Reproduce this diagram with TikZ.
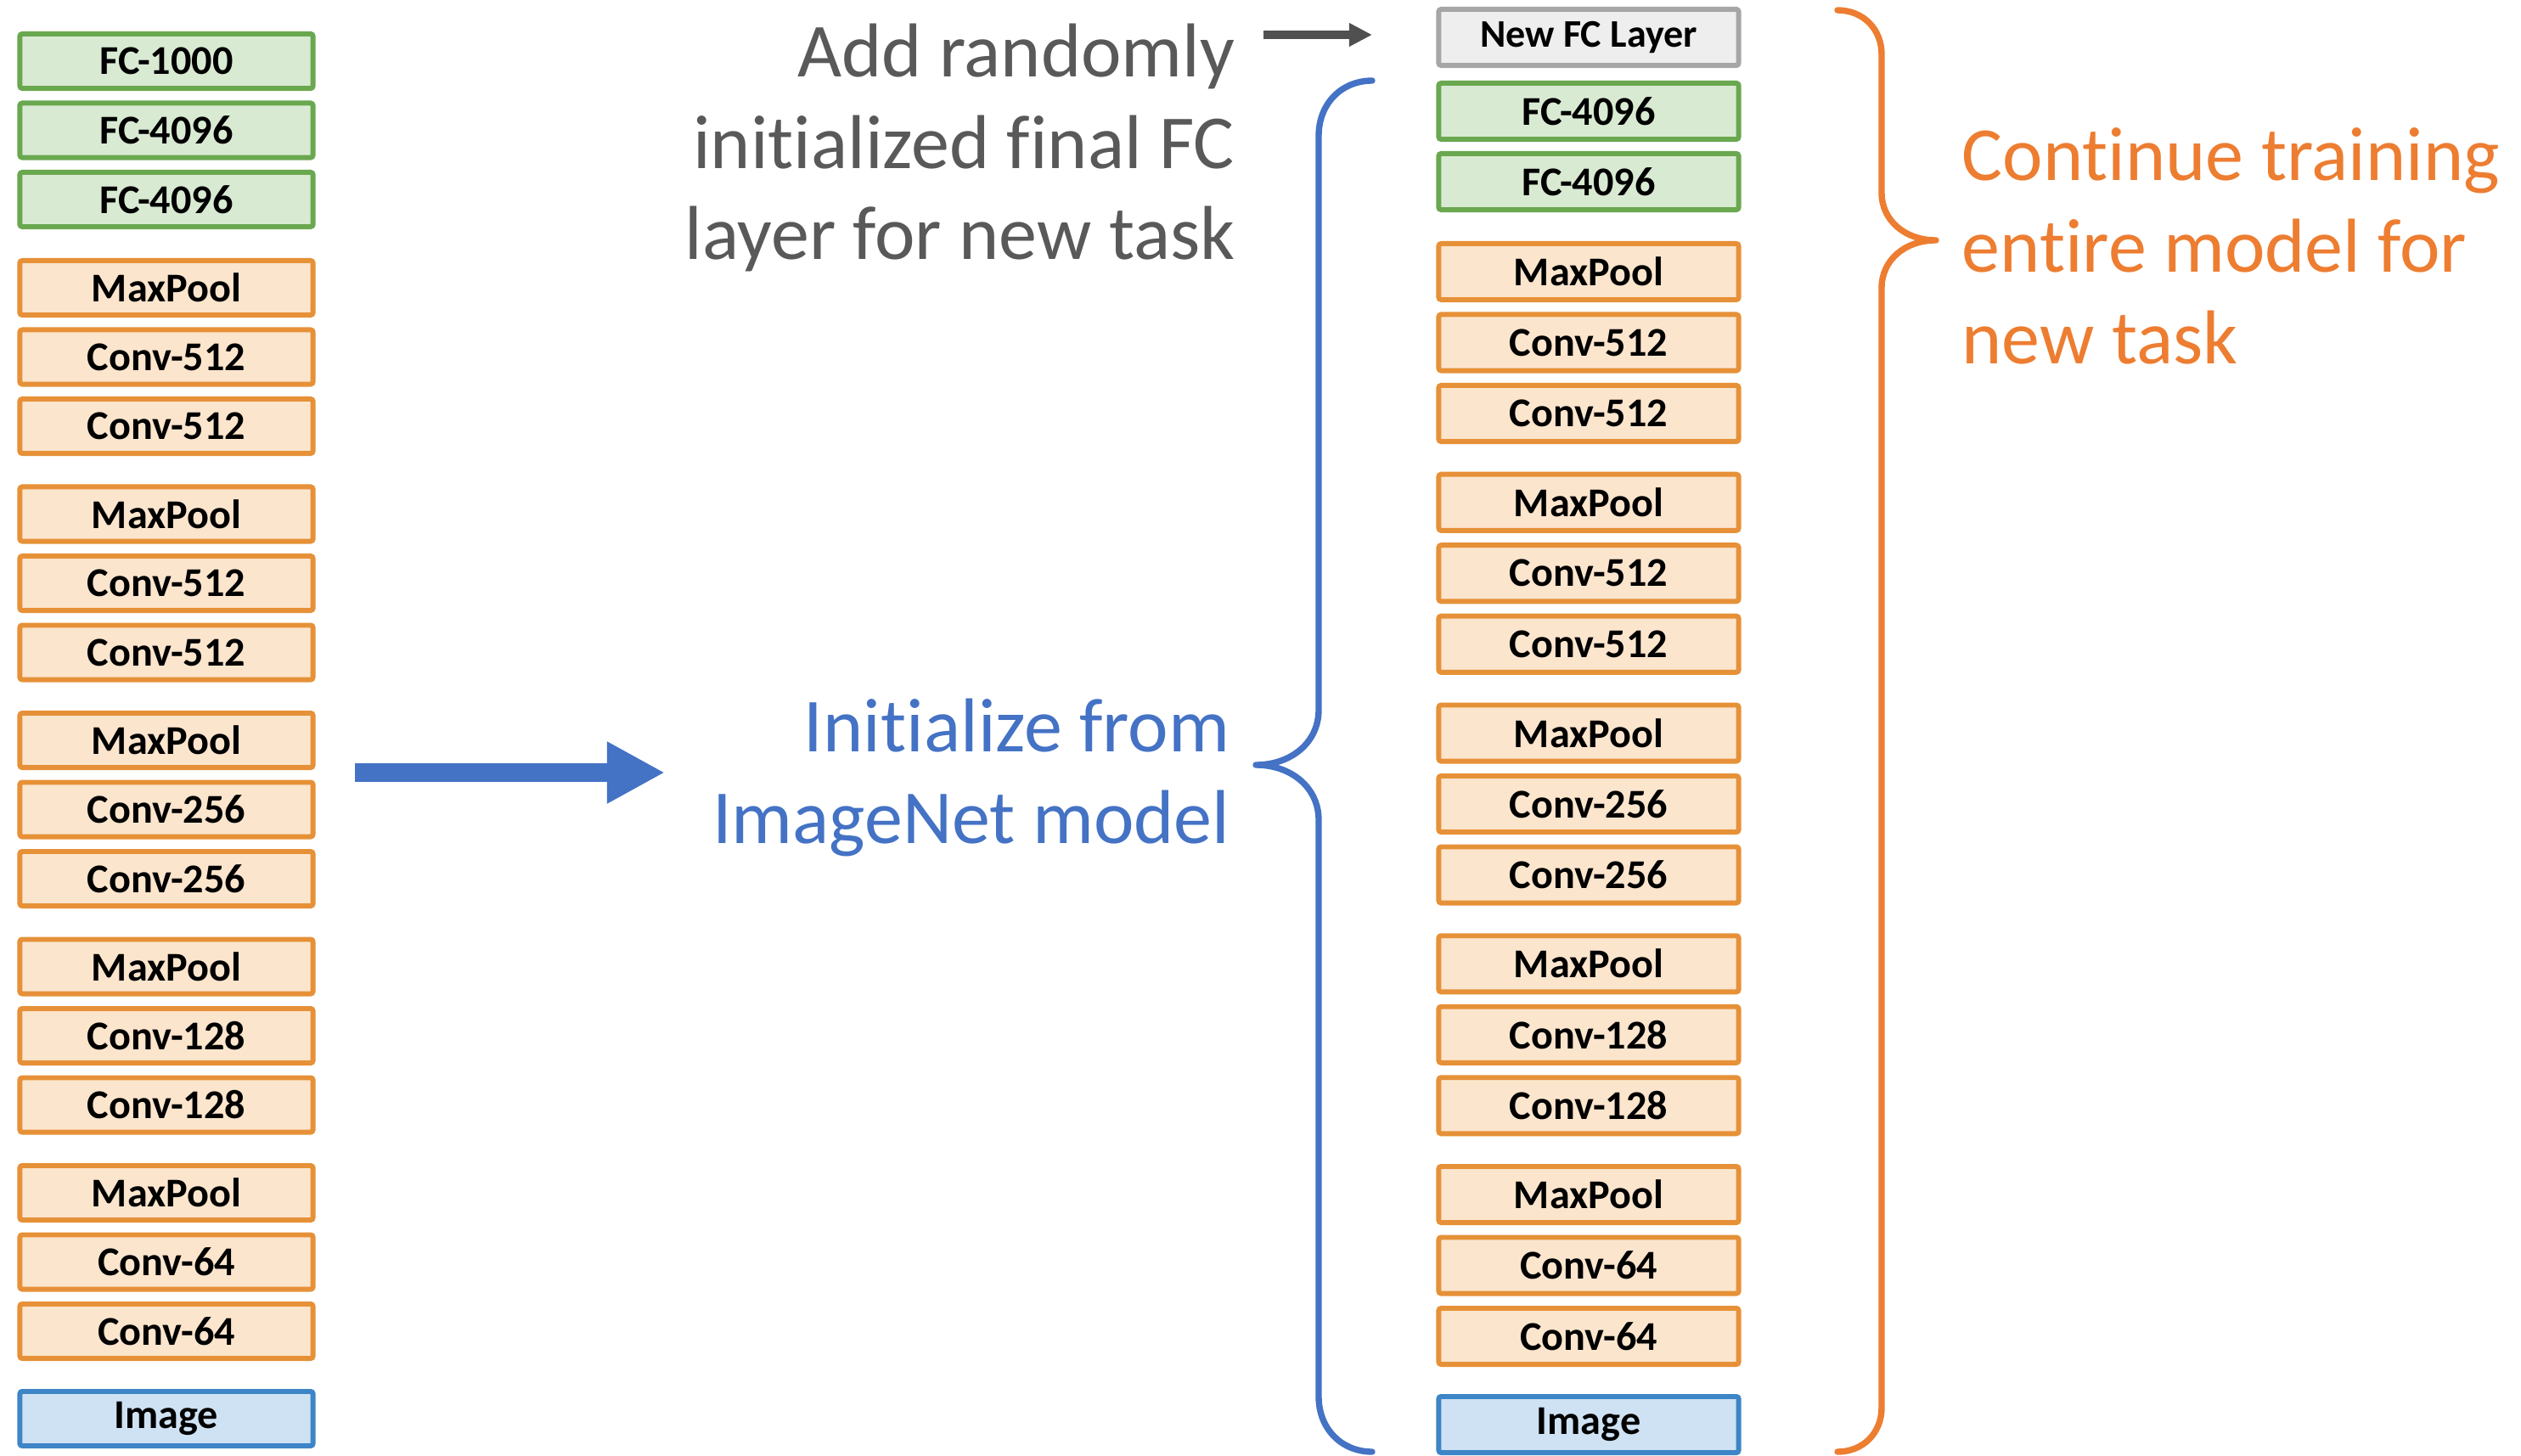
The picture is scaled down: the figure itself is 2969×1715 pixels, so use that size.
\documentclass[tikz,border=0pt]{standalone}
\usepackage{fontspec}
\setmainfont{Carlito}[Ligatures=NoCommon]
\usetikzlibrary{arrows.meta}

\definecolor{convdraw}{HTML}{E69138}
\definecolor{convfill}{HTML}{FCE5CD}
\definecolor{fcdraw}{HTML}{6AA84F}
\definecolor{fcfill}{HTML}{D9EAD3}
\definecolor{imgdraw}{HTML}{3D85C6}
\definecolor{imgfill}{HTML}{CFE2F3}
\definecolor{newdraw}{HTML}{A6A6A6}
\definecolor{newfill}{HTML}{EEEEEE}
\definecolor{noteorange}{HTML}{ED7D31}
\definecolor{noteblue}{HTML}{4472C4}
\definecolor{notegray}{HTML}{595959}
\definecolor{arrowgray}{HTML}{505050}

\tikzset{
  layer/.style={draw, line width=1.7pt, rounded corners=0.8pt, inner sep=0pt,
    text=black, font=\bfseries\fontsize{13.7}{16}\selectfont},
  leftbox/.style={layer, minimum width=3.45cm, minimum height=0.64cm},
  rightbox/.style={layer, minimum width=3.53cm, minimum height=0.66cm},
  conv/.style={draw=convdraw, fill=convfill},
  fc/.style={draw=fcdraw, fill=fcfill},
  img/.style={draw=imgdraw, fill=imgfill},
  newfc/.style={draw=newdraw, fill=newfill},
  note/.style={inner sep=0pt, font=\fontsize{25.6}{30.7}\selectfont},
  brace/.style={line width=2.1pt, line cap=round, line join=round},
}

\begin{document}
\begin{tikzpicture}[x=0.01cm, y=-0.01cm]
\useasboundingbox (0,0) rectangle (2969,1715);

% ---- pretrained network (left column)
\node[leftbox, fc] (Lfc1) at (196,72) {FC-1000};
\node[leftbox, fc] (Lfc2) at (196,153.5) {FC-4096};
\node[leftbox, fc] (Lfc3) at (196,235) {FC-4096};
\foreach \g/\c in {0/512,1/512,2/256,3/128,4/64}{
  \node[leftbox, conv] (Lpool\g) at (196,{339+266.5*\g}) {MaxPool};
  \node[leftbox, conv] (Lconva\g) at (196,{420.5+266.5*\g}) {Conv-\c};
  \node[leftbox, conv] (Lconvb\g) at (196,{502+266.5*\g}) {Conv-\c};
}
\node[leftbox, img] (Limg) at (196,1671) {Image};

% ---- fine-tuned network (right column)
\node[rightbox, newfc, font=\bfseries\fontsize{13.1}{16}\selectfont] (Rnew) at (1871,44) {New FC Layer};
\node[rightbox, fc] (Rfc2) at (1871,131) {FC-4096};
\node[rightbox, fc] (Rfc3) at (1871,214) {FC-4096};
\foreach \g/\c in {0/512,1/512,2/256,3/128,4/64}{
  \node[rightbox, conv] (Rpool\g) at (1871,{320+271.75*\g}) {MaxPool};
  \node[rightbox, conv] (Rconva\g) at (1871,{403.5+271.75*\g}) {Conv-\c};
  \node[rightbox, conv] (Rconvb\g) at (1871,{487+271.75*\g}) {Conv-\c};
}
\node[rightbox, img] (Rimg) at (1871,1678) {Image};

% ---- transfer arrow
\coordinate (initfrom) at (418,910);
\coordinate (initto) at (783,910);
\draw[noteblue, line width=6.26pt, -{Triangle[length=19.4pt, width=19.4pt]}] (initfrom) -- (initto);

% ---- arrow pointing at the new layer
\coordinate (addfrom) at (1488,41);
\coordinate (addto) at (1616,41);
\draw[arrowgray, line width=2.85pt, -{Triangle[length=7.7pt, width=7.4pt]}] (addfrom) -- (addto);

% ---- annotations
\node[note, text=notegray, align=right, anchor=east] (addnote) at (1455,174)
  {Add randomly\\initialized final FC\\layer for new task};
\node[note, text=noteblue, align=right, anchor=east] (initnote) at (1449,916)
  {Initialize from\\ImageNet model};
\node[note, text=noteorange, align=left, anchor=west] (trainnote) at (2310,290)
  {Continue training\\entire model for\\new task};

% ---- brace over the copied layers
\draw[brace, noteblue]
  (1616,95) .. controls (1580,95) and (1553,122) .. (1553,160)
  -- (1553,836) .. controls (1553,875) and (1520,901) .. (1479,901)
  .. controls (1520,901) and (1553,927) .. (1553,966)
  -- (1553,1645) .. controls (1553,1683) and (1580,1710) .. (1616,1710);

% ---- brace over the whole network
\draw[brace, noteorange]
  (2164,12) .. controls (2194,12) and (2216,34) .. (2216,64)
  -- (2216,227) .. controls (2216,260) and (2244,283) .. (2280,283)
  .. controls (2244,283) and (2216,306) .. (2216,339)
  -- (2216,1658) .. controls (2216,1688) and (2194,1710) .. (2164,1710);
\end{tikzpicture}
\end{document}
